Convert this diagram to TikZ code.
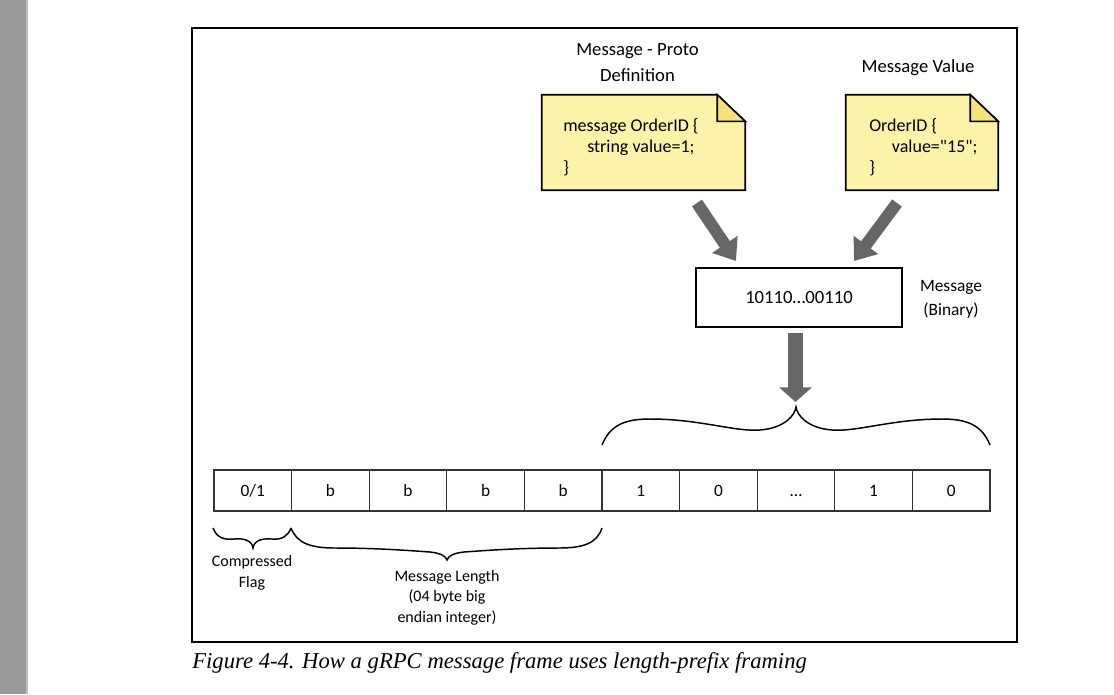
\documentclass[tikz,border=0pt]{standalone}
\usepackage{fontspec}
\newfontfamily\figfont{Carlito}
\newfontfamily\capfont{Liberation Serif}
\usepackage{tikz}
\usetikzlibrary{arrows.meta,positioning,calc}

\definecolor{notefill}{HTML}{FCF3A8}
\definecolor{foldfill}{HTML}{F8E07A}
\definecolor{arrowgray}{HTML}{666666}
\definecolor{bargray}{HTML}{999999}

\tikzset{
  notearea/.style={draw=none, inner sep=0pt},
  notebody/.style={fill=notefill, draw=black, line width=1.2pt, line join=miter},
  notefold/.style={fill=foldfill, draw=black, line width=1.2pt},
  notetext/.style={anchor=west, align=left, inner sep=0pt, font=\figfont\fontsize{13.5}{15.75}\selectfont},
  title/.style={align=center, font=\figfont\fontsize{14}{19.5}\selectfont},
  binbox/.style={draw=black, line width=0.8pt, minimum width=154.5pt, minimum height=44.25pt, font=\figfont\fontsize{14}{16}\selectfont},
  cell/.style={draw=black!80, line width=0.8pt, minimum width=58.2pt, minimum height=30.75pt, inner sep=0pt,
    text height=9pt, text depth=0pt, font=\figfont\fontsize{13}{15}\selectfont},
  lbl/.style={align=center, font=\figfont\fontsize{12}{15.4}\selectfont},
  fatarrow/.style={draw=arrowgray, line width=9pt, -{Triangle[length=15pt, width=22pt]}},
  bracepath/.style={draw=black, line width=1.1pt}
}

\begin{document}
\begin{tikzpicture}[x=0.75pt, y=-0.75pt]
    \useasboundingbox (0,0) rectangle (1114,694);
    \fill[bargray] (0,0) rectangle (26,694);
    \fill[black!25] (26,0) rectangle (27.5,694);
    \draw[line width=1.1pt] (192,28) rectangle (1017,642);

    % the two notes
    \node[title] (prototitle) at (637.5,63) {Message - Proto\\Definition};
    \node[title] (valuetitle) at (918,68) {Message Value};

    \node[notearea, minimum width=152.25pt, minimum height=71.25pt] (proto) at (643.5,142.5) {};
    \path[notebody] (proto.south west) -- (proto.north west) -- ([xshift=-21pt]proto.north east)
        -- ([yshift=-20pt]proto.north east) -- (proto.south east) -- cycle;
    \path[notefold] ([xshift=-21pt]proto.north east) -- ([xshift=-21pt, yshift=-20pt]proto.north east)
        -- ([yshift=-20pt]proto.north east) -- cycle;
    \node[notetext] (prototext) at (563,147) {message OrderID \{\\\hspace*{18pt}string value=1;\\\}};

    \node[notearea, minimum width=114pt, minimum height=71.25pt] (value) at (922,142.5) {};
    \path[notebody] (value.south west) -- (value.north west) -- ([xshift=-21pt]value.north east)
        -- ([yshift=-20pt]value.north east) -- (value.south east) -- cycle;
    \path[notefold] ([xshift=-21pt]value.north east) -- ([xshift=-21pt, yshift=-20pt]value.north east)
        -- ([yshift=-20pt]value.north east) -- cycle;
    \node[notetext] (valuetext) at (869,147) {OrderID \{\\\hspace*{17pt}value="15";\\\}};

    % binary message
    \node[binbox] (bin) at (799,297.5) {10110…00110};
    \node[title, font=\figfont\fontsize{13}{18}\selectfont] (binlbl) at (951,299) {Message\\(Binary)};

    \coordinate (pa) at (697,203);
    \coordinate (pb) at (736,261);
    \coordinate (va) at (897,203);
    \coordinate (vb) at (854,261);
    \coordinate (ba) at (795.5,333);
    \coordinate (bb) at (795.5,402);
    \draw[fatarrow] (pa) -- (pb);
    \draw[fatarrow] (va) -- (vb);
    \draw[fatarrow, line width=11pt, -{Triangle[length=11pt, width=24pt]}] (ba) -- (bb);

    % frame cells
    \foreach \lbl [count=\i] in {{0/1}, b, b, b, b, 1, 0, …, 1, 0}
        \node[cell] (c\i) at ({214+77.6*(\i-0.5)}, 490.5) {\lbl};

    % braces
    \draw[bracepath] (602,445) .. controls (610,425) and (625,419) .. (650,419)
        .. controls (700,419) and (735,432) .. (760,430)
        .. controls (785,428) and (795,415) .. (796,407)
        .. controls (797,415) and (807,428) .. (832,430)
        .. controls (857,432) and (892,419) .. (942,419)
        .. controls (967,419) and (982,425) .. (990,445);
    \draw[bracepath] (213,528) .. controls (217,538) and (224,540) .. (234,539)
        .. controls (245,538) and (252,541) .. (253,548)
        .. controls (254,541) and (261,538) .. (272,539)
        .. controls (282,540) and (288,536) .. (291,528);
    \draw[bracepath] (291,528) .. controls (297,543) and (310,548) .. (335,548)
        .. controls (380,548) and (415,551) .. (430,552)
        .. controls (440,553) and (446,556) .. (447,560)
        .. controls (448,556) and (454,553) .. (464,552)
        .. controls (479,551) and (514,548) .. (559,548)
        .. controls (584,548) and (597,543) .. (602,528);

    \node[lbl] (flag) at (252,573) {Compressed\\Flag};
    \node[lbl] (len) at (447,597.5) {Message Length\\(04 byte big\\endian integer)};

    % caption
    \node[anchor=west, inner sep=0pt, font=\capfont\fontsize{17}{20}\selectfont\itshape] (cap) at (192,663)
        {Figure 4-4. How a gRPC message frame uses length-prefix framing};
\end{tikzpicture}
\end{document}
